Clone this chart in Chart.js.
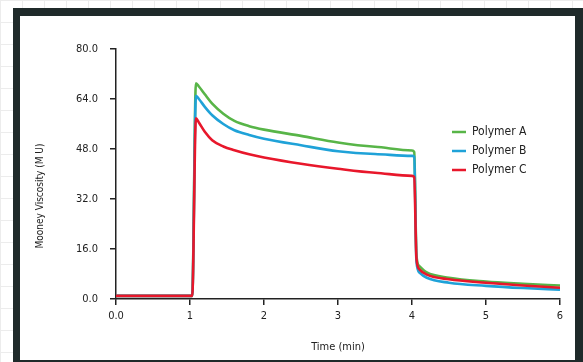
<!DOCTYPE html>
<html>
<head>
  <title>Mooney Viscosity</title>
  <script src="https://cdn.jsdelivr.net/npm/chart.js"></script>
  <style>
    html, body { margin: 0; padding: 0; }
    body {
      width: 583px; height: 362px; overflow: hidden; position: relative;
      background-color: #fff;
      background-image: linear-gradient(#ececec 1px, transparent 1px), linear-gradient(90deg, #ececec 1px, transparent 1px);
      background-size: 22px 22px;
    }
    #frame { position: absolute; left: 13px; top: 8px; width: 570px; height: 354px; background: #1f2a2a; }
    #panel { position: absolute; left: 20px; top: 16px; width: 555px; height: 344px; background: #fff; }
  </style>
</head>
<body>
  <div id="frame"></div>
  <div id="panel"><canvas id="mooneyChart" width="555" height="344"></canvas></div>
  <script>
    // time in minutes, shared by all three curves
    const times    = [0, 0.99, 1.03, 1.08, 1.12, 1.2, 1.3, 1.45, 1.6, 1.8, 2.0, 2.5, 3.0, 3.5, 4.0, 4.03, 4.06, 4.1, 4.2, 4.5, 5.0, 5.5, 6.0];
    const polymerA = [1, 1, 1, 69.0, 68.0, 65.5, 62.5, 59.3, 57.0, 55.3, 54.2, 52.2, 50.1, 48.7, 47.5, 47.0, 14.0, 10.5, 8.5, 6.8, 5.6, 4.9, 4.3];
    const polymerB = [1, 1, 1, 65.0, 64.0, 61.5, 58.8, 56.0, 54.0, 52.5, 51.3, 49.2, 47.3, 46.4, 45.8, 45.5, 12.0, 8.5, 6.8, 5.2, 4.2, 3.5, 3.0];
    const polymerC = [1, 1, 1, 57.8, 56.5, 53.5, 50.8, 48.8, 47.6, 46.3, 45.3, 43.3, 41.7, 40.4, 39.4, 39.0, 13.0, 9.5, 7.8, 6.3, 5.2, 4.3, 3.6];

    const seriesNames = ['Polymer A', 'Polymer B', 'Polymer C'];
    const xTickValues = [0, 1, 2, 3, 4, 5, 6];
    const xTickLabels = ['0.0', '1', '2', '3', '4', '5', '6'];
    const yTickValues = [0, 16, 32, 48, 64, 80];
    const yTickLabels = ['0.0', '16.0', '32.0', '48.0', '64.0', '80.0'];

    const FONT = "'Liberation Sans Narrow', 'DejaVu Sans Condensed', sans-serif";
    const INK = '#222';

    const toPoints = vals => times.map((t, i) => ({ x: t, y: vals[i] }));

    // legend inside the plot + y title placed a bit lower than the axis centre
    const extras = {
      id: 'extras',
      afterDraw(chart) {
        const ctx = chart.ctx;
        ctx.save();
        ctx.font = '12px ' + FONT;
        ctx.textBaseline = 'middle';
        chart.data.datasets.forEach((ds, i) => {
          const y = 116 + i * 19;
          ctx.strokeStyle = ds.borderColor;
          ctx.lineWidth = 2.5;
          ctx.beginPath();
          ctx.moveTo(432, y);
          ctx.lineTo(446, y);
          ctx.stroke();
          ctx.fillStyle = INK;
          ctx.fillText(ds.label, 452, y);
        });
        ctx.font = '10px ' + FONT;
        ctx.textAlign = 'center';
        ctx.translate(20, 180);
        ctx.rotate(-Math.PI / 2);
        ctx.fillText('Mooney Viscosity (M U)', 0, 0);
        ctx.restore();
      }
    };

    new Chart(document.getElementById('mooneyChart'), {
      type: 'line',
      data: {
        datasets: [
          { label: seriesNames[0], data: toPoints(polymerA), borderColor: '#58b548', order: 3 },
          { label: seriesNames[1], data: toPoints(polymerB), borderColor: '#1fa2d8', order: 2 },
          { label: seriesNames[2], data: toPoints(polymerC), borderColor: '#e8172b', order: 1 }
        ]
      },
      options: {
        responsive: false,
        animation: false,
        layout: { padding: { top: 33, right: 15, left: 0, bottom: 0 } },
        elements: {
          point: { radius: 0 },
          line: { borderWidth: 2.6, cubicInterpolationMode: 'monotone', fill: false }
        },
        plugins: { legend: { display: false }, tooltip: { enabled: false } },
        scales: {
          x: {
            type: 'linear', min: 0, max: 6,
            afterBuildTicks: s => { s.ticks = xTickValues.map(v => ({ value: v })); },
            afterFit: s => { s.height = 61; },
            ticks: { callback: v => xTickLabels[xTickValues.indexOf(v)], color: INK, font: { family: FONT, size: 11 }, padding: 5, maxRotation: 0 },
            grid: { drawOnChartArea: false, tickLength: 6, color: INK, lineWidth: 1.5 },
            border: { color: INK, width: 1.5 },
            title: { display: true, text: 'Time (min)', color: INK, font: { family: FONT, size: 11 }, padding: { top: 0, bottom: 6 } }
          },
          y: {
            min: 0, max: 80,
            afterBuildTicks: s => { s.ticks = yTickValues.map(v => ({ value: v })); },
            afterFit: s => { s.width = 96; },
            ticks: { callback: v => yTickLabels[yTickValues.indexOf(v)], color: INK, font: { family: FONT, size: 11 }, padding: 12 },
            grid: { drawOnChartArea: false, tickLength: 6, color: INK, lineWidth: 1.5 },
            border: { color: INK, width: 1.5 }
          }
        }
      },
      plugins: [extras]
    });
  </script>
</body>
</html>
